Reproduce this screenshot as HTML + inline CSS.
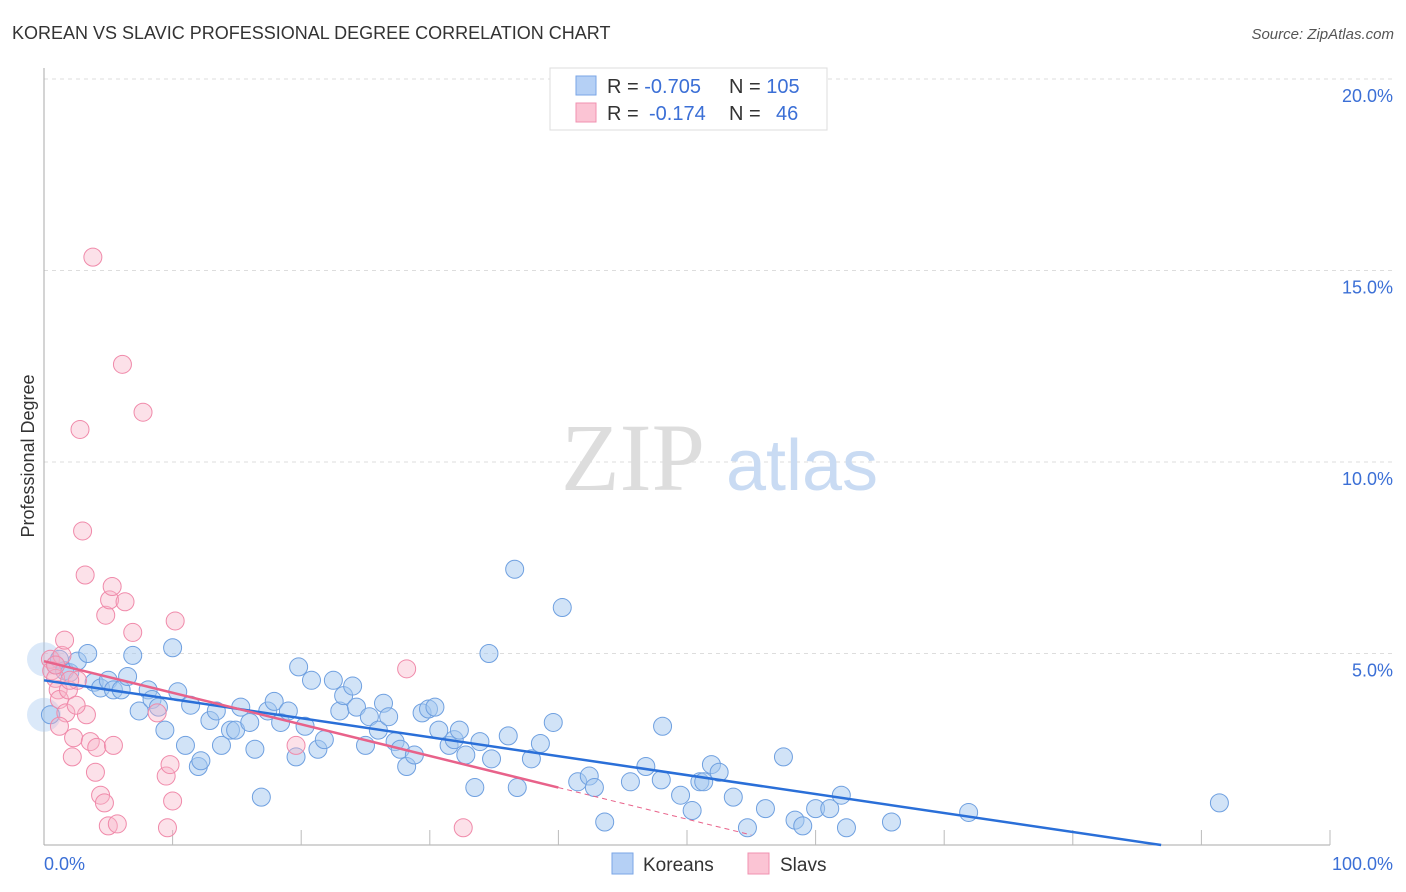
<!DOCTYPE html>
<html><head><meta charset="utf-8"><style>
body{margin:0;background:#fff;font-family:"Liberation Sans",sans-serif;}
svg{display:block}
</style></head><body>
<svg id="chart" width="1406" height="892">
<text x="12" y="39" font-size="18" fill="#333">KOREAN VS SLAVIC PROFESSIONAL DEGREE CORRELATION CHART</text>
<text x="1394" y="39" font-size="15" fill="#555" font-style="italic" text-anchor="end">Source: ZipAtlas.com</text>
<g id="grid"></g>
<text x="633" y="490" font-size="96" fill="#ddd" font-family="Liberation Serif,serif" text-anchor="middle">ZIP</text>
<text x="802" y="490" font-size="72" fill="#c9dbf3" text-anchor="middle">atlas</text>
<text transform="translate(34,456) rotate(-90)" font-size="18" fill="#333" text-anchor="middle">Professional Degree</text>
<g id="marks"></g>
<g id="lines"></g>
<g>
<rect x="550" y="68" width="277" height="62" fill="#fff" stroke="#ddd"/>
<rect x="576" y="76" width="20" height="19" fill="#b5d0f5" stroke="#7aa6e6"/>
<rect x="576" y="103" width="20" height="19" fill="#fbc4d4" stroke="#f092b0"/>
<text x="607" y="93" font-size="20" fill="#333">R = <tspan fill="#3b6fd6">-0.705</tspan><tspan x="729">N = </tspan><tspan fill="#3b6fd6">105</tspan></text>
<text x="607" y="120" font-size="20" fill="#333">R = <tspan x="649" fill="#3b6fd6">-0.174</tspan><tspan x="729">N = </tspan><tspan x="776" fill="#3b6fd6">46</tspan></text>
</g>
<g>
<rect x="612" y="853" width="21" height="21" fill="#b5d0f5" stroke="#7aa6e6"/>
<text x="643" y="871" font-size="19" fill="#333">Koreans</text>
<rect x="748" y="853" width="21" height="21" fill="#fbc4d4" stroke="#f092b0"/>
<text x="780" y="871" font-size="19" fill="#333">Slavs</text>
</g>
</svg>
<script>
const yTicks=[5,10,15,20];
const yTickLabels=["5.0%","10.0%","15.0%","20.0%"];
const xTickLabels=["0.0%","100.0%"];
const koreanX=[0.5,0.9,1.2,1.6,2.0,2.6,3.4,3.9,4.4,5.0,5.4,6.0,6.5,6.9,7.4,8.1,8.4,8.9,9.4,10.0,10.4,11.0,11.4,12.0,12.2,12.9,13.4,13.8,14.5,14.9,15.3,16.0,16.4,16.9,17.4,17.9,18.4,19.0,19.6,19.8,20.3,20.8,21.3,21.8,22.5,23.0,23.3,24.0,24.3,25.0,25.3,26.0,26.4,26.8,27.3,27.7,28.2,28.8,29.4,29.9,30.4,30.7,31.5,31.9,32.3,32.8,33.5,33.9,34.6,34.8,36.1,36.6,36.8,37.9,38.6,39.6,40.3,41.5,42.4,42.8,43.6,45.6,46.8,48.0,48.1,49.5,50.4,51.0,51.3,51.9,52.5,53.6,54.7,56.1,57.5,58.4,59.0,60.0,61.1,62.0,62.4,65.9,71.9,91.4];
const koreanY=[3.4,4.7,4.85,4.55,4.5,4.8,5.0,4.25,4.1,4.3,4.05,4.05,4.4,4.95,3.5,4.05,3.8,3.6,3.0,5.15,4.0,2.6,3.65,2.05,2.2,3.25,3.5,2.6,3.0,3.0,3.6,3.2,2.5,1.25,3.5,3.75,3.2,3.5,2.3,4.65,3.1,4.3,2.5,2.75,4.3,3.5,3.9,4.15,3.6,2.6,3.35,3.0,3.7,3.35,2.7,2.5,2.05,2.35,3.45,3.55,3.6,3.0,2.6,2.75,3.0,2.35,1.5,2.7,5.0,2.25,2.85,7.2,1.5,2.25,2.65,3.2,6.2,1.65,1.8,1.5,0.6,1.65,2.05,1.7,3.1,1.3,0.9,1.65,1.65,2.1,1.9,1.25,0.45,0.95,2.3,0.65,0.5,0.95,0.95,1.3,0.45,0.6,0.85,1.1];
const slavX=[0.5,0.6,0.9,1.1,1.2,1.4,1.6,1.7,1.2,1.9,2.2,2.3,2.6,2.8,3.0,3.2,3.3,3.6,3.8,4.0,4.1,4.4,4.7,4.8,5.0,5.1,5.3,5.4,5.7,6.1,6.3,6.9,7.7,8.8,9.5,9.8,9.6,10.0,10.2,19.6,28.2,32.6,2.0,2.5,0.9];
const slavY=[4.85,4.55,4.35,4.05,3.8,4.95,5.35,3.45,3.1,4.05,2.3,2.8,4.3,10.85,8.2,7.05,3.4,2.7,15.35,1.9,2.55,1.3,1.1,6.0,0.5,6.4,6.75,2.6,0.55,12.55,6.35,5.55,11.3,3.45,1.8,2.1,0.45,1.15,5.85,2.6,4.6,0.45,4.3,3.65,4.7];
const koreanFit=[4.3,-0.0495];
const slavFit=[4.8,-0.0825];
const X=v=>44+v*12.86, Y=v=>845-v*38.3;
const NS="http://www.w3.org/2000/svg";
function mk(t,a,p){const e=document.createElementNS(NS,t);for(const k in a)e.setAttribute(k,a[k]);p.appendChild(e);return e;}
const grid=document.getElementById('grid');
yTicks.forEach((t,i)=>{
 const l=mk('line',{x1:44,x2:1395,y1:Y(t),y2:Y(t),stroke:'#ddd','stroke-dasharray':'4,4'},grid);
 
 
 const tx=mk('text',{x:1393,y:Y(t)+23,'font-size':18,fill:'#3b6fd6','text-anchor':'end'},grid);
 tx.textContent=yTickLabels[i];
 
 
});
const la=mk('line',{x1:44,x2:44,y1:68,y2:845,stroke:'#aaa'},grid);


const ba=mk('line',{x1:44,x2:1330,y1:845,y2:845,stroke:'#aaa'},grid);


for(let i=1;i<=10;i++){
 const tk=mk('line',{x1:X(i*10),x2:X(i*10),y1:830,y2:845,stroke:'#bbb'},grid);
 
 
}
const xl0=mk('text',{x:44,y:870,'font-size':18,fill:'#3b6fd6'},grid);xl0.textContent=xTickLabels[0];


const xl1=mk('text',{x:1393,y:870,'font-size':18,fill:'#3b6fd6','text-anchor':'end'},grid);xl1.textContent=xTickLabels[1];


const marks=document.getElementById('marks');
const b1=mk('circle',{cx:X(0),cy:Y(4.85),r:17,fill:'rgba(164,200,240,0.4)'},marks);


const b2=mk('circle',{cx:X(0),cy:Y(3.4),r:17,fill:'rgba(164,200,240,0.4)'},marks);


koreanX.forEach((x,i)=>{
 const c=mk('circle',{cx:X(x),cy:Y(koreanY[i]),r:9,fill:'rgba(164,200,240,0.5)',stroke:'#6fa0e0','stroke-width':1},marks);
 
 
});
slavX.forEach((x,i)=>{
 const c=mk('circle',{cx:X(x),cy:Y(slavY[i]),r:9,fill:'rgba(248,180,200,0.4)',stroke:'#f08aaa','stroke-width':1},marks);
 
 
});
const lines=document.getElementById('lines');
const kEnd=-koreanFit[0]/koreanFit[1];
const kl=mk('line',{x1:X(0),y1:Y(koreanFit[0]),x2:X(kEnd),y2:Y(0),stroke:'#2a6fd8','stroke-width':2.5},lines);


const sl=mk('line',{x1:X(0),y1:Y(slavFit[0]),x2:X(40),y2:Y(slavFit[0]+slavFit[1]*40),stroke:'#e8628a','stroke-width':2.5},lines);


const sd=mk('line',{x1:X(40),y1:Y(slavFit[0]+slavFit[1]*40),x2:X(55),y2:Y(slavFit[0]+slavFit[1]*55),stroke:'#e8628a','stroke-width':1,'stroke-dasharray':'5,4'},lines);


</script>
</body></html>
